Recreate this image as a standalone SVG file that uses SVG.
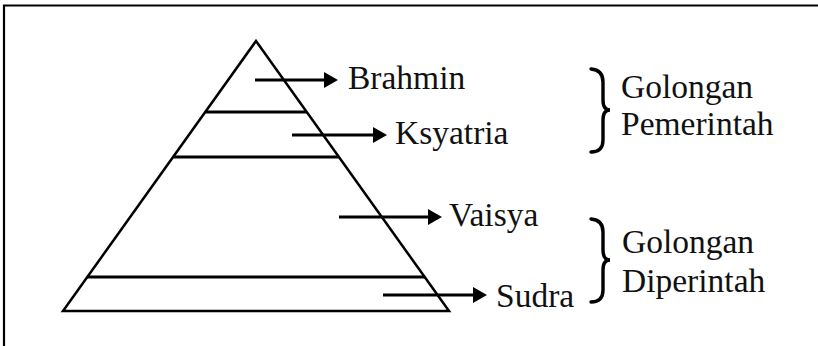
<svg xmlns="http://www.w3.org/2000/svg" width="818" height="346" viewBox="0 0 818 346">
<style>
.t{font-family:'Liberation Serif','DejaVu Serif',serif;font-size:33.5px;fill:#111}
.ln{stroke:#000;stroke-width:3;fill:none}
.tri{stroke:#000;stroke-width:2.5;fill:none;stroke-linejoin:miter}
.br{stroke:#000;stroke-width:3.4;fill:none;stroke-linecap:round}
</style>
<defs>
<marker id="ah" markerUnits="userSpaceOnUse" markerWidth="14" markerHeight="16" refX="3" refY="8" orient="auto">
<path d="M0,0 L14,8 L0,16 z" fill="#000"/>
</marker>
</defs>
<path d="M4,346 L4,5.5 L818,5.5" fill="none" stroke="#000" stroke-width="2.2"/>
<g id="pyramid">
<polygon class="tri" points="256,41 449,311 63,311"/>
<line class="ln" x1="205" y1="112" x2="307" y2="112"/>
<line class="ln" x1="173" y1="157" x2="339" y2="157"/>
<line class="ln" x1="87" y1="277" x2="425" y2="277"/>
</g>
<g id="connectors">
<line class="ln" x1="255" y1="80" x2="327" y2="80" marker-end="url(#ah)"/>
<line class="ln" x1="292" y1="135" x2="376" y2="135" marker-end="url(#ah)"/>
<line class="ln" x1="339" y1="217" x2="431" y2="217" marker-end="url(#ah)"/>
<line class="ln" x1="383" y1="295" x2="476" y2="295" marker-end="url(#ah)"/>
</g>
<g id="brahmin"><text class="t" x="348" y="89">Brahmin</text></g>
<g id="ksyatria"><text class="t" x="395" y="144">Ksyatria</text></g>
<g id="vaisya"><text class="t" x="449" y="226">Vaisya</text></g>
<g id="sudra"><text class="t" x="496" y="307">Sudra</text></g>
<g id="pemerintah">
<path class="br" d="M591,69 Q603,70 603,82 L603,100 Q603,110 610,110 Q603,110 603,120 L603,140 Q603,152 591,152"/>
<text class="t" x="621" y="98">Golongan</text>
<text class="t" x="621" y="135">Pemerintah</text>
</g>
<g id="diperintah">
<path class="br" d="M591,219 Q603,220 603,232 L603,250 Q603,260 610,260 Q603,260 603,270 L603,290 Q603,302 591,302"/>
<text class="t" x="622" y="253">Golongan</text>
<text class="t" x="622" y="292">Diperintah</text>
</g>
</svg>
